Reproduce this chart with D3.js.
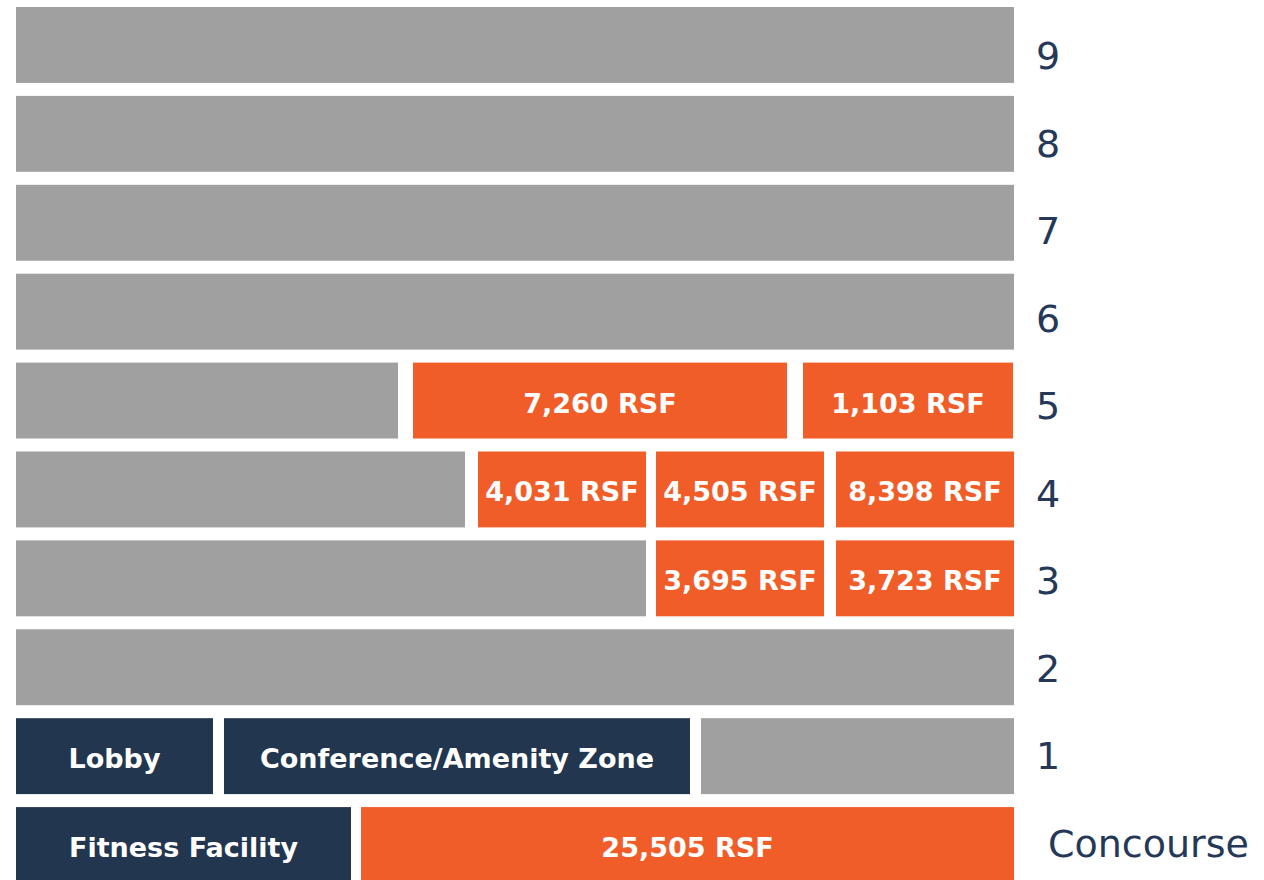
<!DOCTYPE html>
<html>
<head>
<meta charset="utf-8">
<script src="https://cdn.jsdelivr.net/npm/d3@7"></script>
<style>
  body { margin: 0; background: #fff; }
  svg { display: block; }
</style>
</head>
<body>
<div id="chart"></div>
<script>
// floors top to bottom
const floors = ["9", "8", "7", "6", "5", "4", "3", "2", "1", "Concourse"];

// segment extents along the floor plate (0 - 998 units), type and label
const floor9 = [{ start: 0, end: 998, type: "other", label: "" }];
const floor8 = [{ start: 0, end: 998, type: "other", label: "" }];
const floor7 = [{ start: 0, end: 998, type: "other", label: "" }];
const floor6 = [{ start: 0, end: 998, type: "other", label: "" }];
const floor5 = [
  { start: 0, end: 382, type: "other", label: "" },
  { start: 397, end: 771, type: "avail", label: "7,260 RSF" },
  { start: 787, end: 997, type: "avail", label: "1,103 RSF" }
];
const floor4 = [
  { start: 0, end: 449, type: "other", label: "" },
  { start: 462, end: 630, type: "avail", label: "4,031 RSF" },
  { start: 640, end: 808, type: "avail", label: "4,505 RSF" },
  { start: 820, end: 998, type: "avail", label: "8,398 RSF" }
];
const floor3 = [
  { start: 0, end: 630, type: "other", label: "" },
  { start: 640, end: 808, type: "avail", label: "3,695 RSF" },
  { start: 820, end: 998, type: "avail", label: "3,723 RSF" }
];
const floor2 = [{ start: 0, end: 998, type: "other", label: "" }];
const floor1 = [
  { start: 0, end: 197, type: "amenity", label: "Lobby" },
  { start: 208, end: 674, type: "amenity", label: "Conference/Amenity Zone" },
  { start: 685, end: 998, type: "other", label: "" }
];
const concourse = [
  { start: 0, end: 335, type: "amenity", label: "Fitness Facility" },
  { start: 345, end: 998, type: "avail", label: "25,505 RSF" }
];

const segments = [floor9, floor8, floor7, floor6, floor5, floor4, floor3, floor2, floor1, concourse];

const colors = { other: "#a0a0a0", avail: "#f15d29", amenity: "#23364f" };

const w = 1264;
const h = 880;

const rows = [];
floors.forEach((f, i) => {
  segments[i].forEach((s) => rows.push(Object.assign({ floor: f }, s)));
});

const xScale = d3.scaleLinear()
  .domain([0, 998])
  .range([16, 1014]);

const yScale = d3.scaleBand()
  .domain(floors)
  .range([7, 883])
  .paddingInner(0.146)
  .paddingOuter(0);

// floor names sit on a slightly tighter pitch than the bars
const labelScale = d3.scalePoint()
  .domain(floors)
  .range([55, 843]);

const svg = d3.select("#chart")
  .append("svg")
  .attr("width", w)
  .attr("height", h);

svg.selectAll("rect")
  .data(rows)
  .enter()
  .append("rect")
  .attr("x", (d) => xScale(d.start))
  .attr("y", (d) => yScale(d.floor))
  .attr("width", (d) => xScale(d.end) - xScale(d.start))
  .attr("height", yScale.bandwidth())
  .attr("fill", (d) => colors[d.type]);

svg.selectAll("text.seg")
  .data(rows.filter((d) => d.label))
  .enter()
  .append("text")
  .attr("class", "seg")
  .attr("x", (d) => (xScale(d.start) + xScale(d.end)) / 2)
  .attr("y", (d) => yScale(d.floor) + yScale.bandwidth() / 2 + 12)
  .attr("text-anchor", "middle")
  .attr("fill", "#fff")
  .style("font-family", "'DejaVu Sans', sans-serif")
  .style("font-weight", 700)
  .style("font-size", "27px")
  .text((d) => d.label);

// floor names on the right
svg.selectAll("text.floor")
  .data(floors)
  .enter()
  .append("text")
  .attr("class", "floor")
  .attr("x", (d) => d === "Concourse" ? 1048 : 1036)
  .attr("y", (d) => labelScale(d) + 14)
  .attr("fill", "#253858")
  .style("font-family", "'DejaVu Sans', sans-serif")
  .style("font-size", "38px")
  .text((d) => d);
</script>
</body>
</html>
